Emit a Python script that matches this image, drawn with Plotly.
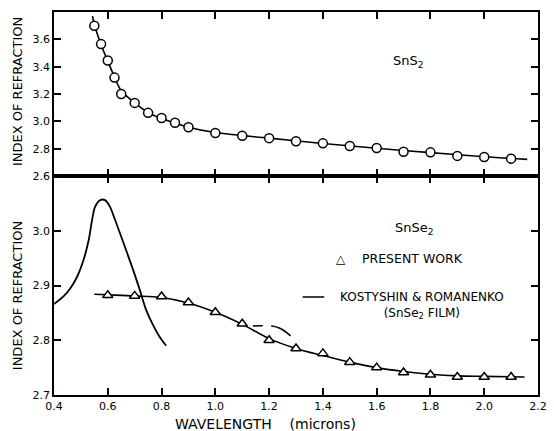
import plotly.graph_objects as go

# ---- SnS2: measured refractive index (open circles) ----
sns2_wl = [0.55, 0.575, 0.6, 0.625, 0.65, 0.7, 0.75, 0.8, 0.85, 0.9, 1.0, 1.1,
           1.2, 1.3, 1.4, 1.5, 1.6, 1.7, 1.8, 1.9, 2.0, 2.1]
sns2_n = [3.70, 3.565, 3.445, 3.32, 3.20, 3.135, 3.062, 3.025, 2.99, 2.957, 2.915, 2.895,
          2.877, 2.854, 2.839, 2.82, 2.805, 2.778, 2.773, 2.747, 2.739, 2.727]

# smooth dispersion curve drawn through the SnS2 points
sns2_fit_wl = [0.543, 0.55, 0.575, 0.6, 0.625, 0.65, 0.7, 0.75, 0.8, 0.9, 1.0, 1.2,
               1.4, 1.6, 1.8, 2.0, 2.16]
sns2_fit_n = [3.77, 3.71, 3.56, 3.44, 3.325, 3.225, 3.135, 3.065, 3.02, 2.957, 2.918, 2.877,
              2.838, 2.803, 2.771, 2.741, 2.722]

# ---- SnSe2: present work (open triangles) ----
snse2_wl = [0.6, 0.7, 0.8, 0.9, 1.0, 1.1, 1.2, 1.3, 1.4, 1.5, 1.6, 1.7, 1.8, 1.9, 2.0, 2.1]
snse2_n = [2.882, 2.881, 2.880, 2.869, 2.851, 2.830, 2.800, 2.785, 2.776, 2.760, 2.750,
           2.741, 2.737, 2.733, 2.733, 2.733]

snse2_fit_wl = [0.55, 0.6, 0.7, 0.8, 0.9, 1.0, 1.1, 1.2, 1.3, 1.4, 1.5, 1.6, 1.7, 1.8,
                1.9, 2.0, 2.15]
snse2_fit_n = [2.884, 2.883, 2.881, 2.878, 2.868, 2.851, 2.829, 2.803, 2.785, 2.772, 2.760,
               2.750, 2.743, 2.738, 2.735, 2.734, 2.733]

# ---- Kostyshin & Romanenko (SnSe2 film) ----
kr_wl = [0.40, 0.437, 0.461, 0.486, 0.510, 0.529, 0.541, 0.553, 0.572, 0.590, 0.608,
         0.627, 0.645, 0.670, 0.694, 0.719, 0.743, 0.768, 0.792, 0.817]
kr_n = [2.866, 2.881, 2.895, 2.916, 2.947, 2.983, 3.018, 3.044, 3.056, 3.056, 3.044,
        3.020, 2.996, 2.962, 2.929, 2.892, 2.855, 2.828, 2.807, 2.790]

# dashed continuation of the film curve
kr_tail_wl = [1.14, 1.17, 1.21, 1.24, 1.26, 1.28]
kr_tail_n = [2.826, 2.8265, 2.826, 2.822, 2.816, 2.808]

# axis ticks
x_ticks = [0.4, 0.6, 0.8, 1.0, 1.2, 1.4, 1.6, 1.8, 2.0, 2.2]
top_y_ticks = [2.6, 2.8, 3.0, 3.2, 3.4, 3.6]
bot_y_ticks = [2.7, 2.8, 2.9, 3.0]

FONT = "DejaVu Sans"
INK = "black"

fig = go.Figure()

# top panel (x2 / y2)
fig.add_trace(go.Scatter(x=sns2_fit_wl, y=sns2_fit_n, mode="lines",
                         line=dict(color=INK, width=1.6, shape="spline", smoothing=1.0),
                         xaxis="x2", yaxis="y2", hoverinfo="skip"))
fig.add_trace(go.Scatter(x=sns2_wl, y=sns2_n, mode="markers",
                         marker=dict(symbol="circle", size=9, color="white",
                                     line=dict(color=INK, width=1.5)),
                         xaxis="x2", yaxis="y2"))

# bottom panel (x / y)
fig.add_trace(go.Scatter(x=kr_wl, y=kr_n, mode="lines",
                         line=dict(color=INK, width=1.8, shape="spline", smoothing=0.8),
                         hoverinfo="skip"))
fig.add_trace(go.Scatter(x=kr_tail_wl, y=kr_tail_n, mode="lines",
                         line=dict(color=INK, width=1.6, shape="spline", smoothing=0.8,
                                   dash="10px,8px,40px"),
                         hoverinfo="skip"))
fig.add_trace(go.Scatter(x=snse2_fit_wl, y=snse2_fit_n, mode="lines",
                         line=dict(color=INK, width=1.6, shape="spline", smoothing=1.0),
                         hoverinfo="skip"))
fig.add_trace(go.Scatter(x=snse2_wl, y=snse2_n, mode="markers",
                         marker=dict(symbol="triangle-up", size=9, color="white",
                                     line=dict(color=INK, width=1.5))))

split = 0.5718
axis_common = dict(showline=True, linecolor=INK, linewidth=1.6, mirror="allticks",
                   ticks="inside", ticklen=7, tickwidth=1.5, tickcolor=INK,
                   showgrid=False, zeroline=False,
                   tickfont=dict(family=FONT, size=11, color=INK))

fig.update_layout(
    width=554, height=431,
    margin=dict(l=54, r=7, t=12, b=36),
    paper_bgcolor="white", plot_bgcolor="white",
    showlegend=False,
    xaxis=dict(axis_common, range=[0.4, 2.2], tickvals=x_ticks,
               ticktext=[f"{v:.1f}" for v in x_ticks], anchor="y"),
    yaxis=dict(axis_common, domain=[0, split], range=[2.7, 3.1], tickvals=bot_y_ticks,
               ticktext=[f"{v:.1f}" for v in bot_y_ticks], anchor="x"),
    xaxis2=dict(axis_common, range=[0.4, 2.2], tickvals=x_ticks, matches="x",
                showticklabels=False, anchor="y2"),
    yaxis2=dict(axis_common, domain=[split, 1], range=[2.6, 3.8], tickvals=top_y_ticks,
                ticktext=[f"{v:.1f}" for v in top_y_ticks], anchor="x2"),
)

txt = dict(family=FONT, size=13, color=INK)
# y-axis titles for both panels
for yc in (0.791, 0.258):
    fig.add_annotation(text="INDEX OF REFRACTION", textangle=-90, xref="paper", yref="paper",
                       x=0, y=yc, xshift=-37, showarrow=False, font=txt,
                       xanchor="center", yanchor="middle")

# x-axis title
fig.add_annotation(text="WAVELENGTH&nbsp;&nbsp;&nbsp;&nbsp;(microns)", xref="paper",
                   yref="paper", x=0.436, y=-0.0757, showarrow=False,
                   font=dict(family=FONT, size=14, color=INK),
                   xanchor="center", yanchor="middle")

# panel labels
fig.add_annotation(text="SnS<sub>2</sub>", x=1.72, y=3.44, xref="x2", yref="y2",
                   showarrow=False, font=dict(family=FONT, size=13, color=INK))
fig.add_annotation(text="SnSe<sub>2</sub>", x=1.74, y=3.005, xref="x", yref="y",
                   showarrow=False, font=dict(family=FONT, size=13, color=INK))

# key
key = dict(family=FONT, size=12.5, color=INK)
fig.add_annotation(text="△", xref="paper", yref="paper", x=0.5923, y=0.3316,
                   showarrow=False, font=dict(family=FONT, size=12, color=INK))
fig.add_annotation(text="PRESENT WORK", xref="paper", yref="paper", x=0.633, y=0.3316,
                   xanchor="left", showarrow=False, font=key)
fig.add_shape(type="line", xref="paper", yref="paper", x0=0.5137, x1=0.5584,
              y0=0.2559, y1=0.2559, line=dict(color=INK, width=1.5))
fig.add_annotation(text="KOSTYSHIN &amp; ROMANENKO<br>(SnSe<sub>2</sub> FILM)",
                   xref="paper", yref="paper", x=0.586, y=0.2559, xanchor="left",
                   yanchor="top", yshift=9, align="center", showarrow=False,
                   font=dict(family=FONT, size=12, color=INK))

fig.write_html("out.html")
